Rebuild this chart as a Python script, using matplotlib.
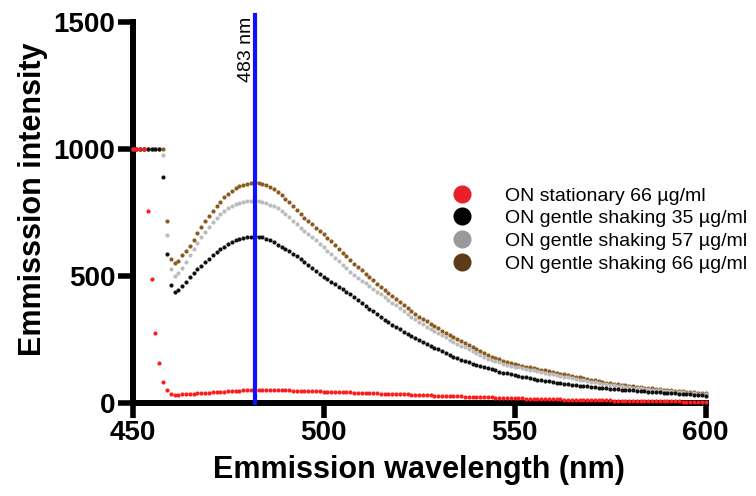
import numpy as np
import matplotlib.pyplot as plt
from matplotlib.lines import Line2D

plt.rcParams['font.family'] = ['Liberation Sans', 'DejaVu Sans']

# emission wavelength, 1 nm steps
wavelength = np.arange(450, 601)

stationary_66 = [1000, 1000, 1000, 1000,
                 758, 487, 275, 158, 81, 51, 35,
                 33, 33, 34, 35, 36, 37, 38, 39, 40, 41, 42, 43, 44, 45, 46,
                 47, 48, 49, 50, 51, 52, 53, 53, 53, 53, 52, 52, 51, 51, 50,
                 50, 49, 49, 48, 48, 47, 47, 46, 46, 45, 45, 44, 44, 43, 43,
                 42, 42, 41, 40, 40, 39, 39, 38, 38, 37, 37, 36, 36, 35, 35,
                 34, 34, 33, 32, 32, 31, 31, 30, 29, 29, 28, 28, 27, 27, 26,
                 26, 25, 25, 24, 24, 23, 23, 22, 22, 21, 21, 20, 20, 19, 19,
                 18, 18, 17, 17, 16, 16, 16, 15, 15, 14, 14, 14, 13, 13, 13,
                 12, 12, 12, 11, 11, 11, 10, 10, 10, 10, 9, 9, 9, 9, 8,
                 8, 8, 8, 7, 7, 7, 7, 7, 6, 6, 6, 6, 6, 5, 5, 5, 5, 5, 5, 5]

shaking_35 = [1000, 1000, 1000, 1000, 1000, 1000, 1000, 1000,
              889, 588, 463, 437,
              445, 460, 478, 496, 511, 526, 540, 554, 568, 581, 593, 605,
              616, 627, 634, 640, 645, 649, 652, 655, 656,
              655, 652, 647, 640, 633, 624, 616, 607, 598, 588, 578, 568,
              556, 544, 532, 520, 508,
              498, 488, 478, 468, 458, 448, 438, 428, 417, 405, 394, 383,
              372, 361, 349, 337, 326,
              317, 308, 299, 290, 281, 272, 264, 255, 247, 240, 233, 225,
              218, 211, 204, 197, 190, 183,
              177, 171, 165, 160, 155, 150, 145, 140, 136, 132, 128, 124,
              120, 117, 113, 110,
              107, 104, 101, 98, 95, 92, 90, 87, 85, 82, 80, 78, 76, 74, 72,
              70, 68, 66, 65, 63, 62, 60, 59, 58, 57,
              56, 55, 53, 52, 51, 50, 48, 47, 46, 45, 44, 43, 42, 41, 40,
              39, 38, 37, 36, 35, 34, 33, 31, 30, 29]

shaking_57 = [1000, 1000, 1000, 1000, 1000, 1000, 1000, 1000,
              976, 660, 526, 502,
              510, 530, 555, 582, 607, 630, 652, 672, 692, 712, 728, 743,
              757, 768, 776, 783, 788, 792, 795, 797, 797,
              795, 791, 786, 780, 774, 767, 757, 745, 731, 717, 703, 689,
              676, 664, 652, 640, 627,
              613, 599, 585, 572, 558, 544, 530, 517, 503, 493, 482, 471,
              460, 449, 438, 428, 417,
              406, 395, 384, 373, 362, 351, 340, 330, 319, 310, 301, 293,
              284, 276, 267, 258, 250, 241,
              234, 226, 219, 211, 204, 197, 190, 182, 175, 170, 165, 160,
              155, 150, 146, 143,
              140, 137, 134, 131, 128, 125, 122, 119, 116, 113, 110, 107,
              104, 101, 98, 95, 92, 89, 87, 84, 81, 79, 76, 74, 72,
              70, 68, 66, 64, 63, 61, 59, 58, 56, 55, 53, 52, 50, 49, 48,
              46, 45, 44, 42, 41, 40, 39, 37, 36, 35]

shaking_66 = [1000, 1000, 1000, 1000, 1000, 1000, 1000, 1000, 1000,
              718, 569, 551,
              560, 581, 600, 620, 640, 668, 695, 716, 737, 758, 776, 793,
              810, 822, 834, 846, 856, 860, 864, 867, 869,
              868, 864, 858, 850, 841, 830, 818, 804, 790, 775, 760, 744,
              730, 717, 704, 691, 678,
              664, 650, 636, 622, 607, 592, 577, 563, 548, 535, 522, 509,
              496, 483, 470, 457, 444,
              432, 420, 408, 397, 385, 374, 362, 350, 339, 330, 321, 311,
              302, 294, 285, 277, 268, 260,
              252, 243, 235, 227, 219, 211, 203, 195, 188, 183, 178, 173,
              167, 162, 157, 152,
              149, 146, 143, 140, 137, 134, 131, 128, 125, 122, 119, 116,
              113, 110, 107, 104, 101, 98, 95, 92, 89, 86, 83, 80, 77,
              75, 73, 71, 69, 67, 66, 64, 62, 61, 59, 58, 56, 55, 53, 52,
              50, 49, 48, 46, 45, 44, 42, 41, 40, 38]

peak_nm = 482
peak_label = '483 nm'

legend_labels = ['ON stationary 66 \u00b5g/ml',
                 'ON gentle shaking 35 \u00b5g/ml',
                 'ON gentle shaking 57 \u00b5g/ml',
                 'ON gentle shaking 66 \u00b5g/ml']
legend_colors = ['#e8202a', '#000000', '#9a9a9a', '#5e3b18']

fig = plt.figure(figsize=(7.56, 4.96), dpi=100)
ax = fig.add_axes([0.1753, 0.1875, 0.758, 0.768])

# brown drawn first, red on top
ax.plot(wavelength, shaking_66, 'o', ms=3, mew=0, color='#8c5a1e', clip_on=False, zorder=3)
ax.plot(wavelength, shaking_57, 'o', ms=3, mew=0, color='#bcbcbc', clip_on=False, zorder=3)
ax.plot(wavelength, shaking_35, 'o', ms=3, mew=0, color='#111111', clip_on=False, zorder=3)
ax.plot(wavelength, stationary_66, 'o', ms=3, mew=0, color='#ff1c1c', clip_on=False, zorder=3)

ax.plot([peak_nm, peak_nm], [0, 1527], color='#1010ff', lw=3, clip_on=False, zorder=4)
ax.text(peak_nm, 1520, peak_label, rotation=90, ha='right', va='top', fontsize=14)

ax.set_xlim(450, 600)
ax.set_ylim(0, 1500)
ax.set_xticks([450, 500, 550, 600])
ax.set_yticks([0, 500, 1000, 1500])

for s in ['top', 'right']:
    ax.spines[s].set_visible(False)
for s in ['left', 'bottom']:
    ax.spines[s].set_linewidth(4.3)

ax.tick_params(direction='out', length=11, width=4, labelsize=20, pad=1.5)
for lab in ax.get_xticklabels() + ax.get_yticklabels():
    lab.set_fontweight('bold')

ax.set_xlabel('Emmission wavelength (nm)', fontsize=22, fontweight='bold', labelpad=6)
ax.set_ylabel('Emmisssion intensity', fontsize=22, fontweight='bold')
ax.yaxis.set_label_coords(-0.147, 0.535)

handles = [Line2D([], [], marker='o', ls='', ms=12, color=c) for c in legend_colors]
ax.legend(handles, legend_labels, loc='upper left', bbox_to_anchor=(0.558, 0.567),
          frameon=False, fontsize=14, handlelength=1, handletextpad=1.7,
          labelspacing=0.26, borderpad=0, borderaxespad=0)

plt.savefig('out.png', dpi=100)
